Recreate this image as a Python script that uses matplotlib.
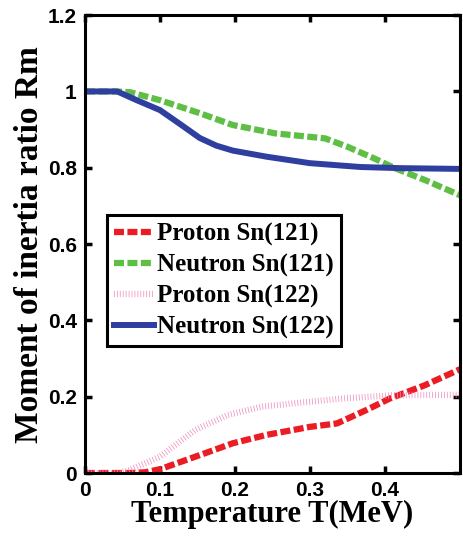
import matplotlib
matplotlib.use("Agg")
import matplotlib.pyplot as plt

# temperature grid (MeV) and moment-of-inertia ratios
T_n121 = [0.0, 0.04, 0.06, 0.1, 0.153, 0.197, 0.254, 0.32, 0.35, 0.385, 0.413, 0.453, 0.5]
Rm_n121 = [1.0, 1.0, 0.998, 0.977, 0.943, 0.912, 0.89, 0.877, 0.855, 0.825, 0.799, 0.768, 0.728]

T_n122 = [0.0, 0.043, 0.069, 0.1, 0.13, 0.153, 0.175, 0.197, 0.242, 0.3, 0.367, 0.42, 0.5]
Rm_n122 = [1.0, 1.0, 0.977, 0.951, 0.91, 0.878, 0.858, 0.845, 0.829, 0.812, 0.802, 0.799, 0.797]

T_p121 = [0.0, 0.06, 0.08, 0.1, 0.153, 0.197, 0.242, 0.3, 0.336, 0.375, 0.406, 0.453, 0.5]
Rm_p121 = [0.0, 0.0, 0.002, 0.01, 0.047, 0.078, 0.1, 0.121, 0.13, 0.165, 0.195, 0.23, 0.272]

T_p122 = [0.0, 0.045, 0.06, 0.1, 0.147, 0.19, 0.236, 0.28, 0.347, 0.413, 0.5]
Rm_p122 = [0.0, 0.0, 0.008, 0.043, 0.113, 0.152, 0.174, 0.183, 0.196, 0.204, 0.205]

xticks = [0, 0.1, 0.2, 0.3, 0.4]
xtick_labels = ["0", "0.1", "0.2", "0.3", "0.4"]
yticks = [0, 0.2, 0.4, 0.6, 0.8, 1.0, 1.2]
ytick_labels = ["0", "0.2", "0.4", "0.6", "0.8", "1", "1.2"]

fig = plt.figure(figsize=(4.63, 5.4), dpi=100)
ax = fig.add_axes([0.1836, 0.124, 0.81, 0.848])

ax.plot(T_p121, Rm_p121, color="#ec1c24", lw=4.5, ls=(0, (1.6, 0.55)),
        label="Proton Sn(121)")
ax.plot(T_n121, Rm_n121, color="#5fbf45", lw=4.5, ls=(0, (1.6, 0.55)),
        label="Neutron Sn(121)")
ax.plot(T_p122, Rm_p122, color="#ee8fbf", lw=4.5, ls=(0, (0.12, 0.35)),
        label="Proton Sn(122)")
ax.plot(T_n122, Rm_n122, color="#2e3fa0", lw=4.3, ls="-",
        label="Neutron Sn(122)")

ax.set_xlim(0, 0.5)
ax.set_ylim(0, 1.2)
ax.set_xticks(xticks)
ax.set_xticklabels(xtick_labels)
ax.set_yticks(yticks)
ax.set_yticklabels(ytick_labels)
ax.tick_params(direction="in", top=True, right=True, length=5, width=2.5, pad=6)
for lab in ax.get_xticklabels() + ax.get_yticklabels():
    lab.set_fontfamily("Liberation Sans")
    lab.set_fontweight("bold")
    lab.set_fontsize(15)
for sp in ax.spines.values():
    sp.set_linewidth(2.2)

ax.set_xlabel("Temperature T(MeV)", fontfamily="Liberation Serif",
              fontweight="bold", fontsize=22, labelpad=0)
ax.set_ylabel("Moment of inertia ratio Rm", fontfamily="Liberation Serif",
              fontweight="bold", fontsize=24, labelpad=2)

leg = ax.legend(loc="upper left", bbox_to_anchor=(0.058, 0.563),
                prop={"family": "Liberation Serif", "weight": "bold", "size": 18},
                handlelength=1.6, handletextpad=0.1, labelspacing=0.3,
                borderpad=0.3, borderaxespad=0.0, fancybox=False, framealpha=1)
leg.get_frame().set_edgecolor("black")
leg.get_frame().set_linewidth(2.2)

fig.savefig("out.png", dpi=100)
